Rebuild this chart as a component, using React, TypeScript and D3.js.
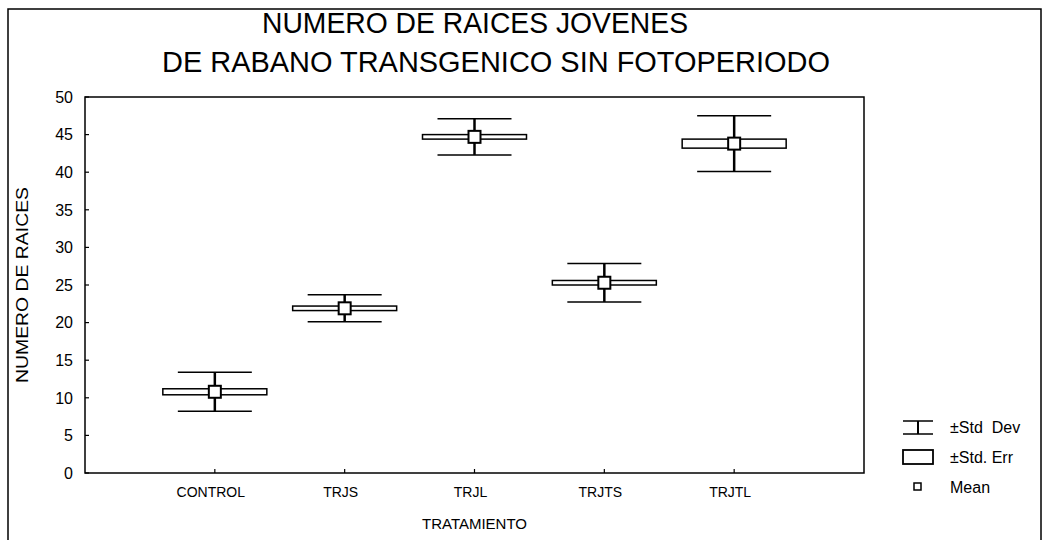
import React, { useEffect, useRef } from 'react'
import * as d3 from 'd3'

// treatment groups and their statistics
const categories: string[] = ['CONTROL', 'TRJS', 'TRJL', 'TRJTS', 'TRJTL']
const means: number[] = [10.8, 21.9, 44.7, 25.3, 43.8]
const stdErr: number[] = [0.4, 0.3, 0.3, 0.3, 0.6]
const stdDev: number[] = [2.6, 1.8, 2.4, 2.55, 3.7]
const yTicks: number[] = [0, 5, 10, 15, 20, 25, 30, 35, 40, 45, 50]
const titleLines: string[] = ['NUMERO DE RAICES JOVENES', 'DE RABANO TRANSGENICO SIN FOTOPERIODO']
const legendItems: string[] = ['±Std  Dev', '±Std. Err', 'Mean']

const W = 1047
const H = 540
const FONT = 'Liberation Sans, Arial, sans-serif'

export default function App() {
  const ref = useRef<SVGSVGElement | null>(null)

  useEffect(() => {
    document.body.style.margin = '0'
    const svg = d3.select(ref.current)
    svg.selectAll('*').remove()

    const left = 85, right = 864, top = 97, bottom = 473

    const x = d3.scalePoint<string>().domain(categories).range([left, right]).padding(1)
    const y = d3.scaleLinear().domain([0, 50]).range([bottom, top])

    svg.append('rect').attr('width', W).attr('height', H).attr('fill', '#fff')

    // outer page frame
    svg.append('path')
      .attr('d', `M8,${H} V9 H1041 V${H}`)
      .attr('fill', 'none').attr('stroke', '#000').attr('stroke-width', 1.5)

    // titles
    const titleX = [475, 496]
    const titleLen = [426, 668]
    titleLines.forEach((t, i) => {
      svg.append('text')
        .attr('x', titleX[i]).attr('y', 33 + i * 39)
        .attr('text-anchor', 'middle')
        .attr('font-family', FONT).attr('font-size', 29)
        .attr('textLength', titleLen[i]).attr('lengthAdjust', 'spacingAndGlyphs')
        .text(t)
    })

    // plot frame
    svg.append('rect')
      .attr('x', left).attr('y', top).attr('width', right - left).attr('height', bottom - top)
      .attr('fill', 'none').attr('stroke', '#000').attr('stroke-width', 1.5)

    // y ticks and labels
    yTicks.forEach(v => {
      svg.append('line')
        .attr('x1', left).attr('x2', left + 4).attr('y1', y(v)).attr('y2', y(v))
        .attr('stroke', '#000').attr('stroke-width', 1.2)
      svg.append('text')
        .attr('x', 73).attr('y', y(v)).attr('dy', '0.36em')
        .attr('text-anchor', 'end')
        .attr('font-family', FONT).attr('font-size', 16)
        .text(v)
    })

    // x ticks and labels
    categories.forEach(c => {
      svg.append('line')
        .attr('x1', x(c)!).attr('x2', x(c)!).attr('y1', bottom).attr('y2', bottom - 4)
        .attr('stroke', '#000').attr('stroke-width', 1.2)
      svg.append('text')
        .attr('x', x(c)! - 4).attr('y', 497)
        .attr('text-anchor', 'middle')
        .attr('font-family', FONT).attr('font-size', 14)
        .text(c)
    })

    // axis titles
    svg.append('text')
      .attr('x', (left + right) / 2).attr('y', 529)
      .attr('text-anchor', 'middle')
      .attr('font-family', FONT).attr('font-size', 15)
      .text('TRATAMIENTO')
    svg.append('text')
      .attr('transform', 'translate(28,285) rotate(-90)')
      .attr('text-anchor', 'middle')
      .attr('font-family', FONT).attr('font-size', 17)
      .attr('textLength', 196).attr('lengthAdjust', 'spacingAndGlyphs')
      .text('NUMERO DE RAICES')

    // box / whisker groups
    const boxW = 104
    const capW = 74
    const g = svg.append('g')
    categories.forEach((c, i) => {
      const cx = x(c)!
      const m = means[i]
      // std err box
      g.append('rect')
        .attr('x', cx - boxW / 2).attr('y', y(m + stdErr[i]))
        .attr('width', boxW).attr('height', y(m - stdErr[i]) - y(m + stdErr[i]))
        .attr('fill', 'none').attr('stroke', '#000').attr('stroke-width', 1.5)
      // std dev whisker
      g.append('line')
        .attr('x1', cx).attr('x2', cx)
        .attr('y1', y(m + stdDev[i])).attr('y2', y(m - stdDev[i]))
        .attr('stroke', '#000').attr('stroke-width', 2.5)
      ;[m + stdDev[i], m - stdDev[i]].forEach(v => {
        g.append('line')
          .attr('x1', cx - capW / 2).attr('x2', cx + capW / 2)
          .attr('y1', y(v)).attr('y2', y(v))
          .attr('stroke', '#000').attr('stroke-width', 1.5)
      })
      // mean marker
      g.append('rect')
        .attr('x', cx - 6).attr('y', y(m) - 6).attr('width', 12).attr('height', 12)
        .attr('fill', '#fff').attr('stroke', '#000').attr('stroke-width', 2)
    })

    // legend
    const lg = svg.append('g')
    const lx = 903, lw = 30
    const rowY = [427, 457, 487]
    lg.append('line').attr('x1', lx).attr('x2', lx + lw).attr('y1', rowY[0] - 6).attr('y2', rowY[0] - 6)
      .attr('stroke', '#000').attr('stroke-width', 1.5)
    lg.append('line').attr('x1', lx).attr('x2', lx + lw).attr('y1', rowY[0] + 7).attr('y2', rowY[0] + 7)
      .attr('stroke', '#000').attr('stroke-width', 1.5)
    lg.append('line').attr('x1', lx + lw / 2).attr('x2', lx + lw / 2).attr('y1', rowY[0] - 6).attr('y2', rowY[0] + 7)
      .attr('stroke', '#000').attr('stroke-width', 2)
    lg.append('rect').attr('x', lx).attr('y', rowY[1] - 7).attr('width', lw).attr('height', 14)
      .attr('fill', 'none').attr('stroke', '#000').attr('stroke-width', 1.8)
    lg.append('rect').attr('x', lx + lw / 2 - 4).attr('y', rowY[2] - 4).attr('width', 7).attr('height', 7)
      .attr('fill', '#fff').attr('stroke', '#000').attr('stroke-width', 1.5)
    legendItems.forEach((t, i) => {
      lg.append('text')
        .attr('x', 950).attr('y', rowY[i]).attr('dy', '0.36em')
        .attr('font-family', FONT).attr('font-size', 16)
        .style('white-space', 'pre')
        .text(t)
    })
  }, [])

  return <svg ref={ref} width={W} height={H} style={{ display: 'block' }} />
}
